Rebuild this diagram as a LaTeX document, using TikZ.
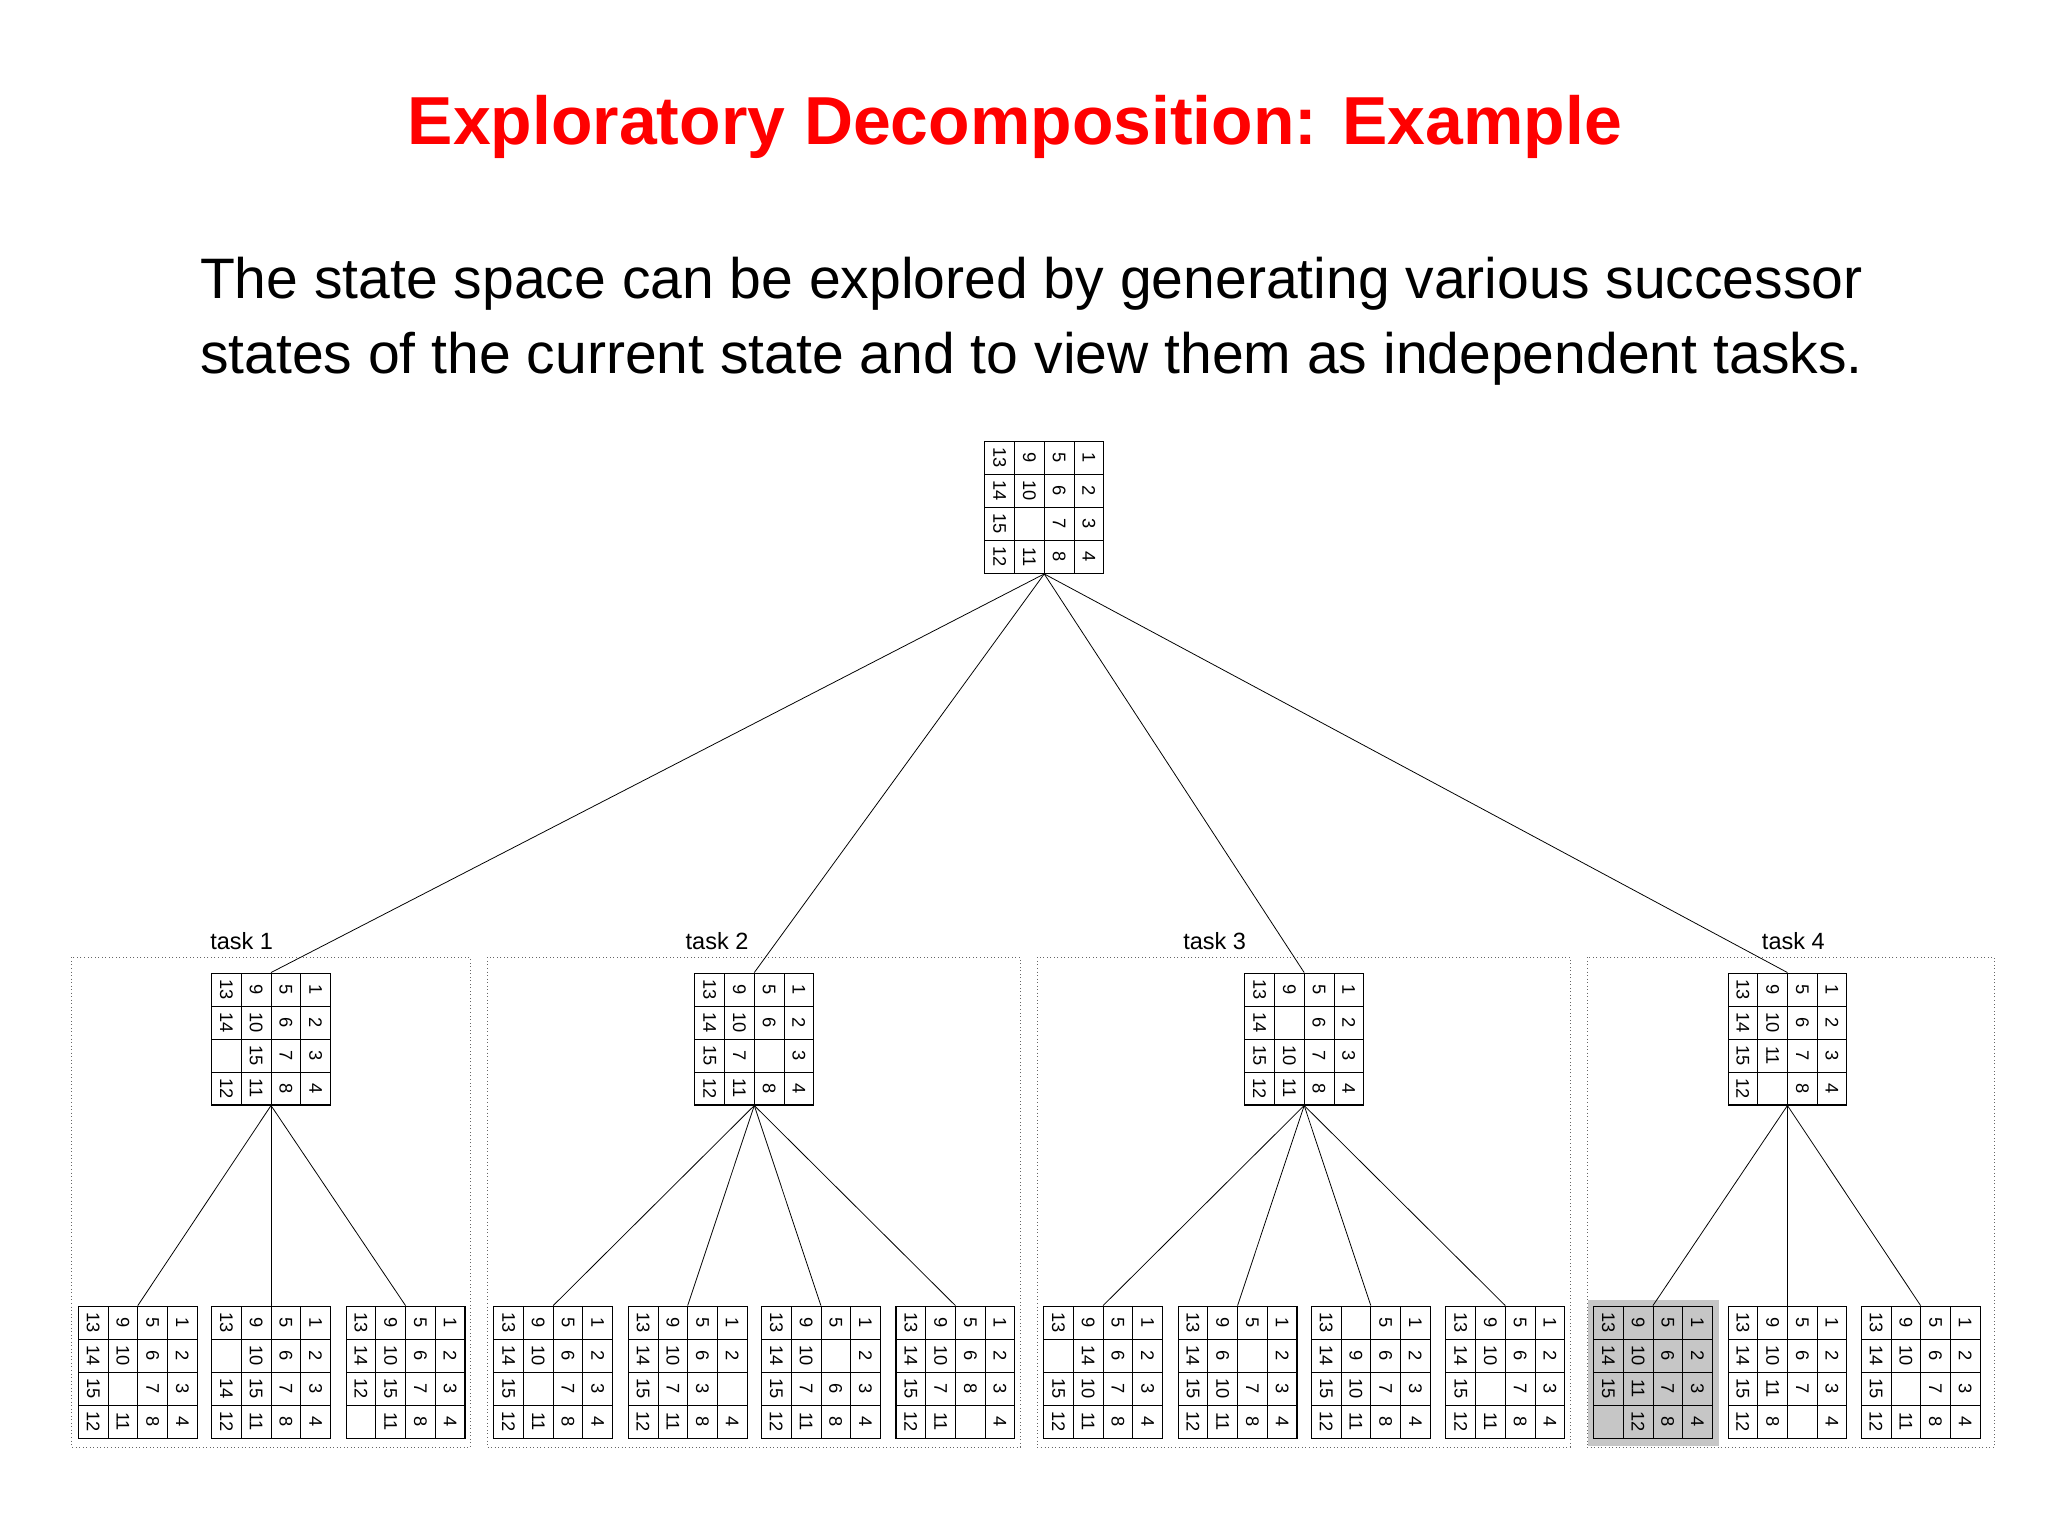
\documentclass[tikz,border=0pt]{standalone}
\usepackage{fontspec}
\setmainfont{Liberation Sans}
\begin{document}
\begin{tikzpicture}[x=1pt,y=-1pt,
  gridbox/.style={draw,line width=0.8pt,minimum width=91pt,minimum height=101pt,inner sep=0pt},
  cell/.style={rotate=-90,font=\fontsize{14}{14}\selectfont,inner sep=0pt},
  taskbox/.style={draw,dotted,line width=0.7pt,gray!80!black},
  edge/.style={line width=0.6pt},
  tasklabel/.style={font=\fontsize{18}{18}\selectfont,anchor=base}]
\useasboundingbox (0,0) rectangle (1568,1176);
\newcommand{\puzgrid}[4]{%
  \node[gridbox] (#1) at (#2+45.5,#3+50.5) {};
  \foreach \k in {1,2,3}{
    \draw[line width=0.6pt] (#2+\k*22.75,#3) -- (#2+\k*22.75,#3+101);
    \draw[line width=0.6pt] (#2,#3+\k*25.25) -- (#2+91,#3+\k*25.25);}
  \foreach \v [count=\i from 0] in {#4}{
    \pgfmathtruncatemacro{\cc}{int(\i/4)}
    \pgfmathtruncatemacro{\rr}{mod(\i,4)}
    \node[cell] at (#2+11.375+\cc*22.75,#3+12.6+\rr*25.25) {\v};}
}
\node[text=red,font=\fontsize{52}{52}\selectfont\bfseries] (title) at (777,97) {Exploratory Decomposition: Example};
\node[anchor=north west,align=left,font=\fontsize{43.7}{57}\selectfont,inner sep=0pt] (body) at (153,197)
 {The state space can be explored by generating various successor\\states of the current state and to view them as independent tasks.};
% task boxes
\draw[taskbox] (55,733) rectangle (360,1108);
\draw[taskbox] (373,733) rectangle (781,1108);
\draw[taskbox] (794,733) rectangle (1202,1108);
\draw[taskbox] (1215,733) rectangle (1527,1108);
\node[tasklabel] (l1) at (185,727) {task 1};
\node[tasklabel] (l2) at (549,727) {task 2};
\node[tasklabel] (l3) at (930,727) {task 3};
\node[tasklabel] (l4) at (1373,727) {task 4};
\fill[gray!45] (1216,995) rectangle (1316,1107);
\puzgrid{root}{754}{338}{13,14,15,12,9,10,,11,5,6,7,8,1,2,3,4}
\puzgrid{t1}{162}{745}{13,14,,12,9,10,15,11,5,6,7,8,1,2,3,4}
\puzgrid{t2}{532}{745}{13,14,15,12,9,10,7,11,5,6,,8,1,2,3,4}
\puzgrid{t3}{953}{745}{13,14,15,12,9,,10,11,5,6,7,8,1,2,3,4}
\puzgrid{t4}{1323}{745}{13,14,15,12,9,10,11,,5,6,7,8,1,2,3,4}
\puzgrid{a1}{60}{1000}{13,14,15,12,9,10,,11,5,6,7,8,1,2,3,4}
\puzgrid{a2}{162}{1000}{13,,14,12,9,10,15,11,5,6,7,8,1,2,3,4}
\puzgrid{a3}{265}{1000}{13,14,12,,9,10,15,11,5,6,7,8,1,2,3,4}
\puzgrid{b1}{378}{1000}{13,14,15,12,9,10,,11,5,6,7,8,1,2,3,4}
\puzgrid{b2}{481}{1000}{13,14,15,12,9,10,7,11,5,6,3,8,1,2,,4}
\puzgrid{b3}{583}{1000}{13,14,15,12,9,10,7,11,5,,6,8,1,2,3,4}
\puzgrid{b4}{686}{1000}{13,14,15,12,9,10,7,11,5,6,8,,1,2,3,4}
\puzgrid{c1}{799}{1000}{13,,15,12,9,14,10,11,5,6,7,8,1,2,3,4}
\puzgrid{c2}{902}{1000}{13,14,15,12,9,6,10,11,5,,7,8,1,2,3,4}
\puzgrid{c3}{1004}{1000}{13,14,15,12,,9,10,11,5,6,7,8,1,2,3,4}
\puzgrid{c4}{1107}{1000}{13,14,15,12,9,10,,11,5,6,7,8,1,2,3,4}
\puzgrid{d1}{1220}{1000}{13,14,15,,9,10,11,12,5,6,7,8,1,2,3,4}
\puzgrid{d2}{1323}{1000}{13,14,15,12,9,10,11,8,5,6,7,,1,2,3,4}
\puzgrid{d3}{1425}{1000}{13,14,15,12,9,10,,11,5,6,7,8,1,2,3,4}
\foreach \t in {t1,t2,t3,t4} \draw[edge] (root.south) -- (\t.north);
\foreach \t in {a1,a2,a3} \draw[edge] (t1.south) -- (\t.north);
\foreach \t in {b1,b2,b3,b4} \draw[edge] (t2.south) -- (\t.north);
\foreach \t in {c1,c2,c3,c4} \draw[edge] (t3.south) -- (\t.north);
\foreach \t in {d1,d2,d3} \draw[edge] (t4.south) -- (\t.north);
\end{tikzpicture}
\end{document}
